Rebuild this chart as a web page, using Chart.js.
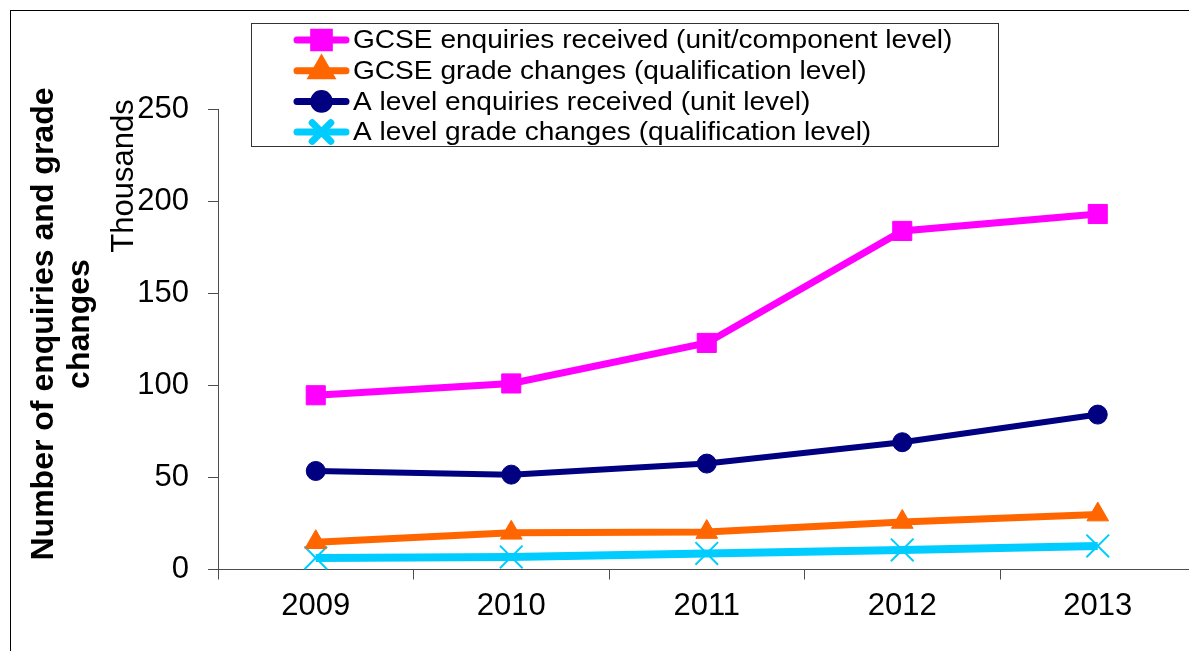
<!DOCTYPE html>
<html>
<head>
<meta charset="utf-8">
<script src="https://cdn.jsdelivr.net/npm/chart.js@4.4.1/dist/chart.umd.min.js"></script>
<style>
  html, body { margin: 0; padding: 0; background: #fff; overflow: hidden; }
  #enquiries { display: block; }
</style>
</head>
<body>
<!-- a little wider than the window: the category axis runs on past the right edge -->
<canvas id="enquiries" width="1200" height="651"></canvas>
<script>
// values, in thousands
const years = ["2009", "2010", "2011", "2012", "2013"];
const gcseEnquiries = [94.6, 101.0, 123.0, 183.8, 193.0];
const gcseGradeChanges = [14.8, 19.9, 20.3, 25.8, 29.8];
const aLevelEnquiries = [53.5, 51.5, 57.5, 69.1, 84.1];
const aLevelGradeChanges = [6.3, 6.8, 8.7, 10.6, 12.8];
const yTicks = [0, 50, 100, 150, 200, 250];

const axisColor = "#4d4d4d";
Chart.defaults.font.family = "\"Liberation Sans\", Arial, sans-serif";
Chart.defaults.color = "#000";

// frame, rotated axis titles and the boxed legend
const decorations = {
  id: "decorations",
  beforeDraw(chart) {
    const ctx = chart.ctx;
    ctx.save();
    ctx.fillStyle = "#fff";
    ctx.fillRect(0, 0, chart.width, chart.height);
    ctx.strokeStyle = "#000";
    ctx.lineWidth = 1;
    ctx.strokeRect(10.5, 10.5, chart.width + 20, chart.height + 20);
    ctx.restore();
  },
  afterDraw(chart) {
    const ctx = chart.ctx;
    ctx.save();
    ctx.fillStyle = "#000";
    ctx.textAlign = "center";
    ctx.textBaseline = "alphabetic";

    ctx.save();
    ctx.translate(53, 324);
    ctx.rotate(-Math.PI / 2);
    ctx.font = "bold 32px \"Liberation Sans\", Arial, sans-serif";
    ctx.fillText("Number of enquiries and grade", 0, 0);
    ctx.fillText("changes", 0, 36);
    ctx.restore();

    ctx.save();
    ctx.translate(133, 176);
    ctx.rotate(-Math.PI / 2);
    ctx.font = "31px \"Liberation Sans\", Arial, sans-serif";
    ctx.fillText("Thousands", 0, 0);
    ctx.restore();

    // legend
    ctx.fillStyle = "#fff";
    ctx.fillRect(251.5, 23.5, 747, 123);
    ctx.strokeStyle = "#333";
    ctx.lineWidth = 1;
    ctx.strokeRect(251.5, 23.5, 747, 123);
    ctx.font = "26px \"Liberation Sans\", Arial, sans-serif";
    ctx.textAlign = "left";
    ctx.textBaseline = "middle";
    chart.data.datasets.forEach((ds, i) => {
      const y = 40 + i * 30.7;
      ctx.strokeStyle = ds.borderColor;
      ctx.fillStyle = ds.borderColor;
      ctx.lineWidth = 7;
      ctx.lineCap = "round";
      ctx.beginPath();
      ctx.moveTo(297, y);
      ctx.lineTo(346, y);
      ctx.stroke();
      Chart.helpers.drawPoint(ctx, {
        pointStyle: ds.pointStyle,
        radius: ds.pointRadius * 0.82,
        borderWidth: ds.pointBorderWidth,
        rotation: 0
      }, 321.5, y);
      ctx.fillStyle = "#000";
      ctx.save();
      ctx.translate(353, y + 1);
      ctx.scale(1.08, 1);
      ctx.fillText(ds.label, 0, 0);
      ctx.restore();
    });
    ctx.restore();
  }
};

function series(label, values, color, width, style, radius, pointBorder) {
  return {
    label: label,
    data: values,
    borderColor: color,
    backgroundColor: color,
    pointBackgroundColor: color,
    pointBorderColor: color,
    borderWidth: width,
    pointStyle: style,
    pointRadius: radius,
    pointBorderWidth: pointBorder,
    pointHoverRadius: radius,
    tension: 0,
    clip: false
  };
}

const chart = new Chart(document.getElementById("enquiries"), {
  type: "line",
  data: {
    labels: years,
    datasets: [
      series("GCSE enquiries received (unit/component level)", gcseEnquiries, "#ff00ff", 7, "rect", 13.5, 1),
      series("GCSE grade changes (qualification level)", gcseGradeChanges, "#ff6600", 7, "triangle", 12.5, 1),
      series("A level enquiries received (unit level)", aLevelEnquiries, "#000080", 6, "circle", 9.5, 1),
      series("A level grade changes (qualification level)", aLevelGradeChanges, "#00ccff", 8, "crossRot", 16, 2)
    ]
  },
  options: {
    responsive: false,
    animation: false,
    events: [],
    layout: { autoPadding: false, padding: { top: 109, right: 4.5, left: 0, bottom: 0 } },
    plugins: {
      legend: { display: false },
      tooltip: { enabled: false }
    },
    scales: {
      x: {
        offset: true,
        grid: { offset: true, drawOnChartArea: false, tickLength: 10, color: axisColor },
        border: { color: axisColor, width: 1 },
        ticks: { font: { size: 31 }, padding: 8, maxRotation: 0 },
        afterFit: (scale) => { scale.height = 81.5; }
      },
      y: {
        min: yTicks[0],
        max: yTicks[yTicks.length - 1],
        grid: { drawOnChartArea: false, tickLength: 10, color: axisColor },
        border: { color: axisColor, width: 1 },
        ticks: {
          stepSize: yTicks[1] - yTicks[0],
          font: { size: 31 },
          padding: 19
        },
        afterFit: (scale) => { scale.width = 218; }
      }
    }
  },
  plugins: [decorations]
});
</script>
</body>
</html>
